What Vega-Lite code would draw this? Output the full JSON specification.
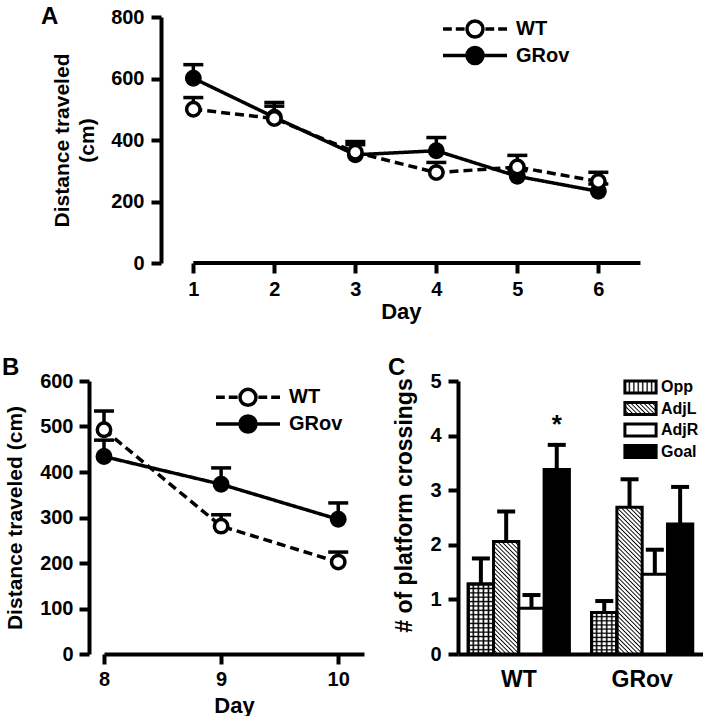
{
"$schema": "https://vega.github.io/schema/vega-lite/v6.json",
"background": "white",
"padding": {"left": 2, "top": 4, "right": 0, "bottom": 0},
"autosize": {"type": "pad"},
"bounds": "full",
"spacing": 34,
"resolve": {"scale": {"fill": "independent", "stroke": "independent"}, "legend": {"fill": "independent", "stroke": "independent"}},
"config": {
  "font": "Liberation Sans",
  "view": {"stroke": null},
  "axis": {"domainColor": "black", "domainWidth": 4, "tickColor": "black", "tickWidth": 4, "tickSize": 10, "labelFontSize": 20, "labelFontWeight": "bold", "labelColor": "black", "titleFontSize": 22, "titleFontWeight": "bold", "titleColor": "black", "grid": false, "labelPadding": 6, "labelFlush": false, "labelOverlap": false},
  "legend": {"labelFontWeight": "bold", "labelColor": "black", "padding": 0},
  "title": {"fontSize": 24, "fontWeight": "bold", "color": "black", "anchor": "start", "frame": "group", "baseline": "alphabetic", "offset": 0}
},
"vconcat": [
{
  "hconcat": [
  {"width": 57, "height": 246, "data": {"values": []}, "mark": "point"},
  {
  "width": 479.7, "height": 246,
  "title": {"text": "A", "dx": -120, "dy": 25.5},
  "data": {"values": [
    {"day": 1, "group": "GRov", "mean": 601, "upper": 645},
    {"day": 2, "group": "GRov", "mean": 474, "upper": 522},
    {"day": 3, "group": "GRov", "mean": 352, "upper": 395},
    {"day": 4, "group": "GRov", "mean": 365, "upper": 408},
    {"day": 5, "group": "GRov", "mean": 282, "upper": 300},
    {"day": 6, "group": "GRov", "mean": 233, "upper": 257},
    {"day": 1, "group": "WT", "mean": 500, "upper": 538},
    {"day": 2, "group": "WT", "mean": 470, "upper": 510},
    {"day": 3, "group": "WT", "mean": 360, "upper": 385},
    {"day": 4, "group": "WT", "mean": 294, "upper": 327},
    {"day": 5, "group": "WT", "mean": 312, "upper": 350},
    {"day": 6, "group": "WT", "mean": 265, "upper": 295}
  ]},
  "encoding": {
    "x": {"field": "day", "type": "quantitative", "scale": {"domain": [0.601, 6.523], "nice": false, "zero": false}, "axis": {"values": [1, 2, 3, 4, 5, 6], "domain": false, "title": "Day", "titlePadding": 2}},
    "y": {"field": "mean", "type": "quantitative", "scale": {"domain": [0, 800], "nice": false}, "axis": {"values": [0, 200, 400, 600, 800], "title": ["Distance traveled", "(cm)"], "titleFontSize": 21, "titleLineHeight": 25, "titlePadding": 13, "labelPadding": 7}}
  },
  "layer": [
    {"data": {"values": [{"d0": 1, "d1": 6.52, "v": 0}]}, "mark": {"type": "rule", "strokeWidth": 4, "color": "black"}, "encoding": {"x": {"field": "d0", "type": "quantitative"}, "x2": {"field": "d1"}, "y": {"field": "v", "type": "quantitative"}}},
    {"mark": {"type": "rule", "strokeWidth": 3.5, "color": "black"}, "encoding": {"y2": {"field": "upper"}}},
    {"mark": {"type": "tick", "orient": "horizontal", "size": 20, "thickness": 3.5, "color": "black", "opacity": 1}, "encoding": {"y": {"field": "upper", "type": "quantitative"}}},
    {"mark": {"type": "line", "strokeWidth": 3.5, "color": "black"}, "encoding": {"detail": {"field": "group"}, "strokeDash": {"condition": {"test": "datum.group === 'WT'", "value": [9, 5]}, "value": [1, 0]}}},
    {"mark": {"type": "point", "filled": true, "size": 180, "stroke": "black", "strokeWidth": 3.5, "opacity": 1}, "encoding": {"fill": {"condition": {"test": "datum.group === 'WT'", "value": "white"}, "value": "black"}}},
    {"transform": [{"filter": "false"}], "mark": {"type": "point", "filled": true, "size": 256, "stroke": "black", "strokeWidth": 3.5, "opacity": 1},
     "encoding": {"fill": {"field": "group", "type": "nominal", "scale": {"domain": ["WT"], "range": ["white"]},
       "legend": {"orient": "none", "legendX": 304, "legendY": 2, "title": null, "labelOffset": 31, "symbolSize": 256, "symbolType": "M-4,0H-2.9M-2.4,0H-1.3M1.3,0H2.4M2.9,0H4M1,0A1,1,0,1,1,-1,0A1,1,0,1,1,1,0Z", "labelFontSize": 20, "symbolStrokeWidth": 3.5, "symbolStrokeColor": "black"}}}},
    {"transform": [{"filter": "false"}], "mark": {"type": "point", "filled": true, "fill": "black", "size": 256, "strokeWidth": 3.5, "opacity": 1},
     "encoding": {"stroke": {"field": "group", "type": "nominal", "scale": {"domain": ["GRov"], "range": ["black"]},
       "legend": {"orient": "none", "legendX": 304, "legendY": 28.5, "title": null, "labelOffset": 31, "symbolSize": 256, "symbolType": "M-4,0H4M1,0A1,1,0,1,1,-1,0A1,1,0,1,1,1,0Z", "labelFontSize": 20, "symbolStrokeWidth": 3.5, "symbolFillColor": "black"}}}}
  ]
  }
  ],
  "spacing": 0,
  "bounds": "flush",
  "resolve": {"scale": {"fill": "independent", "stroke": "independent"}, "legend": {"fill": "independent", "stroke": "independent"}}
},
{
  "hconcat": [
  {
    "width": 260, "height": 273,
    "title": {"text": "B", "dx": -102, "dy": 13.1},
    "data": {"values": [
      {"day": 8, "group": "GRov", "mean": 434, "upper": 470},
      {"day": 9, "group": "GRov", "mean": 373, "upper": 409},
      {"day": 10, "group": "GRov", "mean": 296, "upper": 332},
      {"day": 8, "group": "WT", "mean": 493, "upper": 534},
      {"day": 9, "group": "WT", "mean": 281, "upper": 306},
      {"day": 10, "group": "WT", "mean": 202, "upper": 224}
    ]},
    "encoding": {
      "x": {"field": "day", "type": "quantitative", "scale": {"domain": [8, 10.22], "nice": false, "zero": false}, "axis": {"values": [8, 9, 10], "title": "Day", "titlePadding": 6, "labelPadding": 5}},
      "y": {"field": "mean", "type": "quantitative", "scale": {"domain": [0, 600], "nice": false}, "axis": {"values": [0, 100, 200, 300, 400, 500, 600], "offset": 15, "title": "Distance traveled (cm)", "titleFontSize": 21, "titlePadding": 14}}
    },
    "layer": [
      {"mark": {"type": "rule", "strokeWidth": 3.5, "color": "black"}, "encoding": {"y2": {"field": "upper"}}},
      {"mark": {"type": "tick", "orient": "horizontal", "size": 20, "thickness": 3.5, "color": "black", "opacity": 1}, "encoding": {"y": {"field": "upper", "type": "quantitative"}}},
      {"mark": {"type": "line", "strokeWidth": 3.5, "color": "black"}, "encoding": {"detail": {"field": "group"}, "strokeDash": {"condition": {"test": "datum.group === 'WT'", "value": [9, 5]}, "value": [1, 0]}}},
      {"mark": {"type": "point", "filled": true, "size": 180, "stroke": "black", "strokeWidth": 3.5, "opacity": 1}, "encoding": {"fill": {"condition": {"test": "datum.group === 'WT'", "value": "white"}, "value": "black"}}},
      {"transform": [{"filter": "false"}], "mark": {"type": "point", "filled": true, "size": 256, "stroke": "black", "strokeWidth": 3.5, "opacity": 1},
       "encoding": {"fill": {"field": "group", "type": "nominal", "scale": {"domain": ["WT"], "range": ["white"]},
         "legend": {"orient": "none", "legendX": 134, "legendY": 6.3, "title": null, "labelOffset": 31, "symbolSize": 256, "symbolType": "M-4,0H-2.9M-2.4,0H-1.3M1.3,0H2.4M2.9,0H4M1,0A1,1,0,1,1,-1,0A1,1,0,1,1,1,0Z", "labelFontSize": 20, "symbolStrokeWidth": 3.5, "symbolStrokeColor": "black"}}}},
      {"transform": [{"filter": "false"}], "mark": {"type": "point", "filled": true, "fill": "black", "size": 256, "strokeWidth": 3.5, "opacity": 1},
       "encoding": {"stroke": {"field": "group", "type": "nominal", "scale": {"domain": ["GRov"], "range": ["black"]},
         "legend": {"orient": "none", "legendX": 134, "legendY": 33, "title": null, "labelOffset": 31, "symbolSize": 256, "symbolType": "M-4,0H4M1,0A1,1,0,1,1,-1,0A1,1,0,1,1,1,0Z", "labelFontSize": 20, "symbolStrokeWidth": 3.5, "symbolFillColor": "black"}}}}
    ]
  },
  {
    "width": 245, "height": 273,
    "title": {"text": "C", "dx": -70, "dy": 13.1},
    "data": {"values": [
      {"group": "WT", "cat": "Opp", "value": 1.28, "upper": 1.75},
      {"group": "WT", "cat": "AdjL", "value": 2.06, "upper": 2.61},
      {"group": "WT", "cat": "AdjR", "value": 0.84, "upper": 1.08},
      {"group": "WT", "cat": "Goal", "value": 3.38, "upper": 3.83},
      {"group": "GRov", "cat": "Opp", "value": 0.76, "upper": 0.97},
      {"group": "GRov", "cat": "AdjL", "value": 2.69, "upper": 3.2},
      {"group": "GRov", "cat": "AdjR", "value": 1.46, "upper": 1.91},
      {"group": "GRov", "cat": "Goal", "value": 2.38, "upper": 3.06}
    ]},
    "encoding": {
      "x": {"field": "group", "type": "nominal", "scale": {"domain": ["WT", "GRov"], "paddingInner": 0.18, "paddingOuter": 0.083}, "axis": {"title": null, "ticks": false, "tickSize": 0, "labelPadding": 14, "labelFontSize": 23, "labelAngle": 0}},
      "xOffset": {"field": "cat", "type": "nominal", "scale": {"domain": ["Opp", "AdjL", "AdjR", "Goal"], "paddingInner": 0, "paddingOuter": 0}},
      "y": {"field": "value", "type": "quantitative", "scale": {"domain": [0, 5], "nice": false}, "axis": {"values": [0, 1, 2, 3, 4, 5], "title": "# of platform crossings", "titleFontSize": 23, "titlePadding": 13, "titleY": 124, "labelPadding": 7}}
    },
    "layer": [
      {"mark": {"type": "rule", "strokeWidth": 4, "color": "black"}, "encoding": {"y2": {"field": "upper"}}},
      {"mark": {"type": "tick", "size": 18, "thickness": 4, "color": "black", "opacity": 1}, "encoding": {"y": {"field": "upper", "type": "quantitative"}}},
      {"mark": {"type": "bar", "stroke": "black", "strokeWidth": 3, "opacity": 1},
       "encoding": {"fill": {"condition": [
         {"test": "datum.cat === 'Opp'", "value": {"gradient": "linear", "x1": 0, "y1": 0, "x2": 1, "y2": 0, "stops": [
           {"offset": 0, "color": "#000"}, {"offset": 0.06, "color": "#fff"}, {"offset": 0.14, "color": "#fff"},
           {"offset": 0.2, "color": "#000"}, {"offset": 0.26, "color": "#fff"}, {"offset": 0.34, "color": "#fff"},
           {"offset": 0.4, "color": "#000"}, {"offset": 0.46, "color": "#fff"}, {"offset": 0.54, "color": "#fff"},
           {"offset": 0.6, "color": "#000"}, {"offset": 0.66, "color": "#fff"}, {"offset": 0.74, "color": "#fff"},
           {"offset": 0.8, "color": "#000"}, {"offset": 0.86, "color": "#fff"}, {"offset": 0.94, "color": "#fff"},
           {"offset": 1, "color": "#000"}]}},
         {"test": "datum.cat === 'AdjL' && datum.group === 'WT'", "value": {"gradient": "linear", "x1": 0, "y1": 1, "x2": 0.262, "y2": -0.166, "stops": [
           {"offset": 0, "color": "#000"}, {"offset": 0.0094, "color": "#fff"}, {"offset": 0.0219, "color": "#fff"},
           {"offset": 0.0313, "color": "#000"}, {"offset": 0.0406, "color": "#fff"}, {"offset": 0.0531, "color": "#fff"},
           {"offset": 0.0625, "color": "#000"}, {"offset": 0.0719, "color": "#fff"}, {"offset": 0.0844, "color": "#fff"},
           {"offset": 0.0938, "color": "#000"}, {"offset": 0.1031, "color": "#fff"}, {"offset": 0.1156, "color": "#fff"},
           {"offset": 0.125, "color": "#000"}, {"offset": 0.1344, "color": "#fff"}, {"offset": 0.1469, "color": "#fff"},
           {"offset": 0.1563, "color": "#000"}, {"offset": 0.1656, "color": "#fff"}, {"offset": 0.1781, "color": "#fff"},
           {"offset": 0.1875, "color": "#000"}, {"offset": 0.1969, "color": "#fff"}, {"offset": 0.2094, "color": "#fff"},
           {"offset": 0.2188, "color": "#000"}, {"offset": 0.2281, "color": "#fff"}, {"offset": 0.2406, "color": "#fff"},
           {"offset": 0.25, "color": "#000"}, {"offset": 0.2594, "color": "#fff"}, {"offset": 0.2719, "color": "#fff"},
           {"offset": 0.2813, "color": "#000"}, {"offset": 0.2906, "color": "#fff"}, {"offset": 0.3031, "color": "#fff"},
           {"offset": 0.3125, "color": "#000"}, {"offset": 0.3219, "color": "#fff"}, {"offset": 0.3344, "color": "#fff"},
           {"offset": 0.3438, "color": "#000"}, {"offset": 0.3531, "color": "#fff"}, {"offset": 0.3656, "color": "#fff"},
           {"offset": 0.375, "color": "#000"}, {"offset": 0.3844, "color": "#fff"}, {"offset": 0.3969, "color": "#fff"},
           {"offset": 0.4063, "color": "#000"}, {"offset": 0.4156, "color": "#fff"}, {"offset": 0.4281, "color": "#fff"},
           {"offset": 0.4375, "color": "#000"}, {"offset": 0.4469, "color": "#fff"}, {"offset": 0.4594, "color": "#fff"},
           {"offset": 0.4688, "color": "#000"}, {"offset": 0.4781, "color": "#fff"}, {"offset": 0.4906, "color": "#fff"},
           {"offset": 0.5, "color": "#000"}, {"offset": 0.5094, "color": "#fff"}, {"offset": 0.5219, "color": "#fff"},
           {"offset": 0.5313, "color": "#000"}, {"offset": 0.5406, "color": "#fff"}, {"offset": 0.5531, "color": "#fff"},
           {"offset": 0.5625, "color": "#000"}, {"offset": 0.5719, "color": "#fff"}, {"offset": 0.5844, "color": "#fff"},
           {"offset": 0.5938, "color": "#000"}, {"offset": 0.6031, "color": "#fff"}, {"offset": 0.6156, "color": "#fff"},
           {"offset": 0.625, "color": "#000"}, {"offset": 0.6344, "color": "#fff"}, {"offset": 0.6469, "color": "#fff"},
           {"offset": 0.6563, "color": "#000"}, {"offset": 0.6656, "color": "#fff"}, {"offset": 0.6781, "color": "#fff"},
           {"offset": 0.6875, "color": "#000"}, {"offset": 0.6969, "color": "#fff"}, {"offset": 0.7094, "color": "#fff"},
           {"offset": 0.7188, "color": "#000"}, {"offset": 0.7281, "color": "#fff"}, {"offset": 0.7406, "color": "#fff"},
           {"offset": 0.75, "color": "#000"}, {"offset": 0.7594, "color": "#fff"}, {"offset": 0.7719, "color": "#fff"},
           {"offset": 0.7813, "color": "#000"}, {"offset": 0.7906, "color": "#fff"}, {"offset": 0.8031, "color": "#fff"},
           {"offset": 0.8125, "color": "#000"}, {"offset": 0.8219, "color": "#fff"}, {"offset": 0.8344, "color": "#fff"},
           {"offset": 0.8438, "color": "#000"}, {"offset": 0.8531, "color": "#fff"}, {"offset": 0.8656, "color": "#fff"},
           {"offset": 0.875, "color": "#000"}, {"offset": 0.8844, "color": "#fff"}, {"offset": 0.8969, "color": "#fff"},
           {"offset": 0.9063, "color": "#000"}, {"offset": 0.9156, "color": "#fff"}, {"offset": 0.9281, "color": "#fff"},
           {"offset": 0.9375, "color": "#000"}, {"offset": 0.9469, "color": "#fff"}, {"offset": 0.9594, "color": "#fff"},
           {"offset": 0.9688, "color": "#000"}, {"offset": 0.9781, "color": "#fff"}, {"offset": 0.9906, "color": "#fff"},
           {"offset": 1, "color": "#000"}]}},
         {"test": "datum.cat === 'AdjL'", "value": {"gradient": "linear", "x1": 0, "y1": 1, "x2": 0.1963, "y2": -0.1385, "stops": [
           {"offset": 0, "color": "#000"}, {"offset": 0.0075, "color": "#fff"}, {"offset": 0.0175, "color": "#fff"},
           {"offset": 0.025, "color": "#000"}, {"offset": 0.0325, "color": "#fff"}, {"offset": 0.0425, "color": "#fff"},
           {"offset": 0.05, "color": "#000"}, {"offset": 0.0575, "color": "#fff"}, {"offset": 0.0675, "color": "#fff"},
           {"offset": 0.075, "color": "#000"}, {"offset": 0.0825, "color": "#fff"}, {"offset": 0.0925, "color": "#fff"},
           {"offset": 0.1, "color": "#000"}, {"offset": 0.1075, "color": "#fff"}, {"offset": 0.1175, "color": "#fff"},
           {"offset": 0.125, "color": "#000"}, {"offset": 0.1325, "color": "#fff"}, {"offset": 0.1425, "color": "#fff"},
           {"offset": 0.15, "color": "#000"}, {"offset": 0.1575, "color": "#fff"}, {"offset": 0.1675, "color": "#fff"},
           {"offset": 0.175, "color": "#000"}, {"offset": 0.1825, "color": "#fff"}, {"offset": 0.1925, "color": "#fff"},
           {"offset": 0.2, "color": "#000"}, {"offset": 0.2075, "color": "#fff"}, {"offset": 0.2175, "color": "#fff"},
           {"offset": 0.225, "color": "#000"}, {"offset": 0.2325, "color": "#fff"}, {"offset": 0.2425, "color": "#fff"},
           {"offset": 0.25, "color": "#000"}, {"offset": 0.2575, "color": "#fff"}, {"offset": 0.2675, "color": "#fff"},
           {"offset": 0.275, "color": "#000"}, {"offset": 0.2825, "color": "#fff"}, {"offset": 0.2925, "color": "#fff"},
           {"offset": 0.3, "color": "#000"}, {"offset": 0.3075, "color": "#fff"}, {"offset": 0.3175, "color": "#fff"},
           {"offset": 0.325, "color": "#000"}, {"offset": 0.3325, "color": "#fff"}, {"offset": 0.3425, "color": "#fff"},
           {"offset": 0.35, "color": "#000"}, {"offset": 0.3575, "color": "#fff"}, {"offset": 0.3675, "color": "#fff"},
           {"offset": 0.375, "color": "#000"}, {"offset": 0.3825, "color": "#fff"}, {"offset": 0.3925, "color": "#fff"},
           {"offset": 0.4, "color": "#000"}, {"offset": 0.4075, "color": "#fff"}, {"offset": 0.4175, "color": "#fff"},
           {"offset": 0.425, "color": "#000"}, {"offset": 0.4325, "color": "#fff"}, {"offset": 0.4425, "color": "#fff"},
           {"offset": 0.45, "color": "#000"}, {"offset": 0.4575, "color": "#fff"}, {"offset": 0.4675, "color": "#fff"},
           {"offset": 0.475, "color": "#000"}, {"offset": 0.4825, "color": "#fff"}, {"offset": 0.4925, "color": "#fff"},
           {"offset": 0.5, "color": "#000"}, {"offset": 0.5075, "color": "#fff"}, {"offset": 0.5175, "color": "#fff"},
           {"offset": 0.525, "color": "#000"}, {"offset": 0.5325, "color": "#fff"}, {"offset": 0.5425, "color": "#fff"},
           {"offset": 0.55, "color": "#000"}, {"offset": 0.5575, "color": "#fff"}, {"offset": 0.5675, "color": "#fff"},
           {"offset": 0.575, "color": "#000"}, {"offset": 0.5825, "color": "#fff"}, {"offset": 0.5925, "color": "#fff"},
           {"offset": 0.6, "color": "#000"}, {"offset": 0.6075, "color": "#fff"}, {"offset": 0.6175, "color": "#fff"},
           {"offset": 0.625, "color": "#000"}, {"offset": 0.6325, "color": "#fff"}, {"offset": 0.6425, "color": "#fff"},
           {"offset": 0.65, "color": "#000"}, {"offset": 0.6575, "color": "#fff"}, {"offset": 0.6675, "color": "#fff"},
           {"offset": 0.675, "color": "#000"}, {"offset": 0.6825, "color": "#fff"}, {"offset": 0.6925, "color": "#fff"},
           {"offset": 0.7, "color": "#000"}, {"offset": 0.7075, "color": "#fff"}, {"offset": 0.7175, "color": "#fff"},
           {"offset": 0.725, "color": "#000"}, {"offset": 0.7325, "color": "#fff"}, {"offset": 0.7425, "color": "#fff"},
           {"offset": 0.75, "color": "#000"}, {"offset": 0.7575, "color": "#fff"}, {"offset": 0.7675, "color": "#fff"},
           {"offset": 0.775, "color": "#000"}, {"offset": 0.7825, "color": "#fff"}, {"offset": 0.7925, "color": "#fff"},
           {"offset": 0.8, "color": "#000"}, {"offset": 0.8075, "color": "#fff"}, {"offset": 0.8175, "color": "#fff"},
           {"offset": 0.825, "color": "#000"}, {"offset": 0.8325, "color": "#fff"}, {"offset": 0.8425, "color": "#fff"},
           {"offset": 0.85, "color": "#000"}, {"offset": 0.8575, "color": "#fff"}, {"offset": 0.8675, "color": "#fff"},
           {"offset": 0.875, "color": "#000"}, {"offset": 0.8825, "color": "#fff"}, {"offset": 0.8925, "color": "#fff"},
           {"offset": 0.9, "color": "#000"}, {"offset": 0.9075, "color": "#fff"}, {"offset": 0.9175, "color": "#fff"},
           {"offset": 0.925, "color": "#000"}, {"offset": 0.9325, "color": "#fff"}, {"offset": 0.9425, "color": "#fff"},
           {"offset": 0.95, "color": "#000"}, {"offset": 0.9575, "color": "#fff"}, {"offset": 0.9675, "color": "#fff"},
           {"offset": 0.975, "color": "#000"}, {"offset": 0.9825, "color": "#fff"}, {"offset": 0.9925, "color": "#fff"},
           {"offset": 1, "color": "#000"}]}},
         {"test": "datum.cat === 'Goal'", "value": "black"}
       ], "value": "white"}}},
      {"transform": [{"filter": "datum.cat === 'Opp'"}], "mark": {"type": "bar", "stroke": "black", "strokeWidth": 3, "opacity": 1},
       "encoding": {"fill": {"condition": {"test": "datum.group === 'WT'", "value": {"gradient": "linear", "x1": 0, "y1": 0, "x2": 0.000001, "y2": 1, "stops": [
           {"offset": 0, "color": "#000"}, {"offset": 0.019, "color": "rgba(0,0,0,0)"}, {"offset": 0.044, "color": "rgba(0,0,0,0)"},
           {"offset": 0.0625, "color": "#000"}, {"offset": 0.0815, "color": "rgba(0,0,0,0)"}, {"offset": 0.1065, "color": "rgba(0,0,0,0)"},
           {"offset": 0.125, "color": "#000"}, {"offset": 0.144, "color": "rgba(0,0,0,0)"}, {"offset": 0.169, "color": "rgba(0,0,0,0)"},
           {"offset": 0.1875, "color": "#000"}, {"offset": 0.2065, "color": "rgba(0,0,0,0)"}, {"offset": 0.2315, "color": "rgba(0,0,0,0)"},
           {"offset": 0.25, "color": "#000"}, {"offset": 0.269, "color": "rgba(0,0,0,0)"}, {"offset": 0.294, "color": "rgba(0,0,0,0)"},
           {"offset": 0.3125, "color": "#000"}, {"offset": 0.3315, "color": "rgba(0,0,0,0)"}, {"offset": 0.3565, "color": "rgba(0,0,0,0)"},
           {"offset": 0.375, "color": "#000"}, {"offset": 0.394, "color": "rgba(0,0,0,0)"}, {"offset": 0.419, "color": "rgba(0,0,0,0)"},
           {"offset": 0.4375, "color": "#000"}, {"offset": 0.4565, "color": "rgba(0,0,0,0)"}, {"offset": 0.4815, "color": "rgba(0,0,0,0)"},
           {"offset": 0.5, "color": "#000"}, {"offset": 0.519, "color": "rgba(0,0,0,0)"}, {"offset": 0.544, "color": "rgba(0,0,0,0)"},
           {"offset": 0.5625, "color": "#000"}, {"offset": 0.5815, "color": "rgba(0,0,0,0)"}, {"offset": 0.6065, "color": "rgba(0,0,0,0)"},
           {"offset": 0.625, "color": "#000"}, {"offset": 0.644, "color": "rgba(0,0,0,0)"}, {"offset": 0.669, "color": "rgba(0,0,0,0)"},
           {"offset": 0.6875, "color": "#000"}, {"offset": 0.7065, "color": "rgba(0,0,0,0)"}, {"offset": 0.7315, "color": "rgba(0,0,0,0)"},
           {"offset": 0.75, "color": "#000"}, {"offset": 0.769, "color": "rgba(0,0,0,0)"}, {"offset": 0.794, "color": "rgba(0,0,0,0)"},
           {"offset": 0.8125, "color": "#000"}, {"offset": 0.8315, "color": "rgba(0,0,0,0)"}, {"offset": 0.8565, "color": "rgba(0,0,0,0)"},
           {"offset": 0.875, "color": "#000"}, {"offset": 0.894, "color": "rgba(0,0,0,0)"}, {"offset": 0.919, "color": "rgba(0,0,0,0)"},
           {"offset": 0.9375, "color": "#000"}, {"offset": 0.9565, "color": "rgba(0,0,0,0)"}, {"offset": 0.9815, "color": "rgba(0,0,0,0)"},
           {"offset": 1, "color": "#000"}]}},
         "value": {"gradient": "linear", "x1": 0, "y1": 0, "x2": 0.000001, "y2": 1, "stops": [
           {"offset": 0, "color": "#000"}, {"offset": 0.03, "color": "rgba(0,0,0,0)"}, {"offset": 0.07, "color": "rgba(0,0,0,0)"},
           {"offset": 0.1, "color": "#000"}, {"offset": 0.13, "color": "rgba(0,0,0,0)"}, {"offset": 0.17, "color": "rgba(0,0,0,0)"},
           {"offset": 0.2, "color": "#000"}, {"offset": 0.23, "color": "rgba(0,0,0,0)"}, {"offset": 0.27, "color": "rgba(0,0,0,0)"},
           {"offset": 0.3, "color": "#000"}, {"offset": 0.33, "color": "rgba(0,0,0,0)"}, {"offset": 0.37, "color": "rgba(0,0,0,0)"},
           {"offset": 0.4, "color": "#000"}, {"offset": 0.43, "color": "rgba(0,0,0,0)"}, {"offset": 0.47, "color": "rgba(0,0,0,0)"},
           {"offset": 0.5, "color": "#000"}, {"offset": 0.53, "color": "rgba(0,0,0,0)"}, {"offset": 0.57, "color": "rgba(0,0,0,0)"},
           {"offset": 0.6, "color": "#000"}, {"offset": 0.63, "color": "rgba(0,0,0,0)"}, {"offset": 0.67, "color": "rgba(0,0,0,0)"},
           {"offset": 0.7, "color": "#000"}, {"offset": 0.73, "color": "rgba(0,0,0,0)"}, {"offset": 0.77, "color": "rgba(0,0,0,0)"},
           {"offset": 0.8, "color": "#000"}, {"offset": 0.83, "color": "rgba(0,0,0,0)"}, {"offset": 0.87, "color": "rgba(0,0,0,0)"},
           {"offset": 0.9, "color": "#000"}, {"offset": 0.93, "color": "rgba(0,0,0,0)"}, {"offset": 0.97, "color": "rgba(0,0,0,0)"},
           {"offset": 1, "color": "#000"}]}}}},
      {"transform": [{"filter": "datum.group === 'WT' && datum.cat === 'Goal'"}], "mark": {"type": "text", "text": "*", "fontSize": 26, "fontWeight": "bold", "color": "black", "baseline": "alphabetic", "dy": -12}, "encoding": {"y": {"field": "upper", "type": "quantitative"}}},
      {"transform": [{"filter": "false"}], "mark": {"type": "point", "filled": true, "shape": "M-2.6,-1H2.6V1H-2.6Z", "size": 144, "stroke": "black", "strokeWidth": 3, "opacity": 1},
       "encoding": {"fill": {"field": "cat", "type": "nominal", "scale": {"domain": ["Opp", "AdjL", "AdjR", "Goal"], "range": [
         {"expr": "{gradient: 'linear', x1: 0, y1: 0, x2: 1, y2: 0, stops: [{offset: 0, color: '#000'}, {offset: 0.043, color: '#fff'}, {offset: 0.1, color: '#fff'}, {offset: 0.143, color: '#000'}, {offset: 0.186, color: '#fff'}, {offset: 0.243, color: '#fff'}, {offset: 0.286, color: '#000'}, {offset: 0.329, color: '#fff'}, {offset: 0.386, color: '#fff'}, {offset: 0.429, color: '#000'}, {offset: 0.471, color: '#fff'}, {offset: 0.529, color: '#fff'}, {offset: 0.571, color: '#000'}, {offset: 0.614, color: '#fff'}, {offset: 0.671, color: '#fff'}, {offset: 0.714, color: '#000'}, {offset: 0.757, color: '#fff'}, {offset: 0.814, color: '#fff'}, {offset: 0.857, color: '#000'}, {offset: 0.9, color: '#fff'}, {offset: 0.957, color: '#fff'}, {offset: 1, color: '#000'}]}"},
         {"expr": "{gradient: 'linear', x1: 0, y1: 1, x2: 1.206, y2: 0.536, stops: [{offset: 0, color: '#000'}, {offset: 0.03, color: '#fff'}, {offset: 0.07, color: '#fff'}, {offset: 0.1, color: '#000'}, {offset: 0.13, color: '#fff'}, {offset: 0.17, color: '#fff'}, {offset: 0.2, color: '#000'}, {offset: 0.23, color: '#fff'}, {offset: 0.27, color: '#fff'}, {offset: 0.3, color: '#000'}, {offset: 0.33, color: '#fff'}, {offset: 0.37, color: '#fff'}, {offset: 0.4, color: '#000'}, {offset: 0.43, color: '#fff'}, {offset: 0.47, color: '#fff'}, {offset: 0.5, color: '#000'}, {offset: 0.53, color: '#fff'}, {offset: 0.57, color: '#fff'}, {offset: 0.6, color: '#000'}, {offset: 0.63, color: '#fff'}, {offset: 0.67, color: '#fff'}, {offset: 0.7, color: '#000'}, {offset: 0.73, color: '#fff'}, {offset: 0.77, color: '#fff'}, {offset: 0.8, color: '#000'}, {offset: 0.83, color: '#fff'}, {offset: 0.87, color: '#fff'}, {offset: 0.9, color: '#000'}, {offset: 0.93, color: '#fff'}, {offset: 0.97, color: '#fff'}, {offset: 1, color: '#000'}]}"},
         "white", "black"]},
         "legend": {"orient": "none", "legendX": 174.5, "legendY": -2, "title": null, "labelOffset": 12.5, "rowPadding": -2.5, "symbolSize": 144, "symbolType": "M-2.6,-1H2.6V1H-2.6Z", "labelFontSize": 16, "symbolStrokeWidth": 3, "symbolStrokeColor": "black"}}}}
    ]
  }
  ],
  "spacing": 94,
  "bounds": "flush",
  "resolve": {"scale": {"fill": "independent", "stroke": "independent"}, "legend": {"fill": "independent", "stroke": "independent"}}
}
]
}
